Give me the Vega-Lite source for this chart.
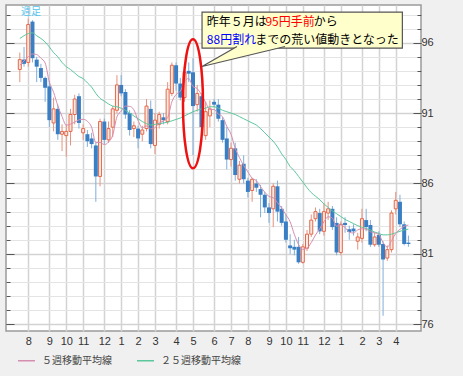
{
"$schema":"https://vega.github.io/schema/vega-lite/v6.json",
"width":415,"height":326,
"autosize":{"type":"none"},
"padding":{"left":6,"top":5,"right":42,"bottom":45},
"background":"#f0f0f0",
"view":{"fill":"#ffffff","stroke":"#9a9a9a","strokeWidth":1.5},
"config":{"axis":{"labelFont":"Liberation Sans","labelFontSize":11,"labelColor":"#333333","tickColor":"#555555","domain":false}},
"datasets":{"fx":[
{"date":"2009-07-20","open":94.1,"high":95.3,"low":93.2,"close":94.8,"ma5":94.4,"ma25":96.3},
{"date":"2009-07-27","open":94.8,"high":95.7,"low":94.3,"close":94.5,"ma5":94.7,"ma25":96.5},
{"date":"2009-08-03","open":94.6,"high":97.7,"low":94.3,"close":97.3,"ma5":95.0,"ma25":96.65},
{"date":"2009-08-10","open":97.5,"high":97.6,"low":94.6,"close":94.9,"ma5":95.2,"ma25":96.7},
{"date":"2009-08-17","open":94.8,"high":95.0,"low":93.2,"close":94.3,"ma5":95.16,"ma25":96.5},
{"date":"2009-08-24","open":94.2,"high":94.5,"low":93.2,"close":93.5,"ma5":94.9,"ma25":96.3},
{"date":"2009-08-31","open":93.5,"high":93.6,"low":91.8,"close":92.8,"ma5":94.56,"ma25":96.05},
{"date":"2009-09-07","open":92.9,"high":93.3,"low":90.0,"close":90.5,"ma5":93.2,"ma25":95.7},
{"date":"2009-09-14","open":90.3,"high":92.1,"low":89.7,"close":91.3,"ma5":92.48,"ma25":95.3},
{"date":"2009-09-21","open":91.3,"high":91.6,"low":89.1,"close":89.5,"ma5":91.52,"ma25":95.0},
{"date":"2009-09-28","open":89.5,"high":90.2,"low":88.3,"close":89.7,"ma5":90.76,"ma25":94.6},
{"date":"2009-10-05","open":89.4,"high":90.2,"low":87.9,"close":89.7,"ma5":90.14,"ma25":94.3},
{"date":"2009-10-12","open":89.7,"high":91.3,"low":88.7,"close":90.9,"ma5":90.22,"ma25":94.1},
{"date":"2009-10-19","open":90.9,"high":92.3,"low":90.2,"close":92.0,"ma5":90.36,"ma25":93.85},
{"date":"2009-10-26","open":92.2,"high":92.4,"low":89.9,"close":90.3,"ma5":90.52,"ma25":93.6},
{"date":"2009-11-02","open":89.6,"high":90.2,"low":89.1,"close":89.9,"ma5":90.56,"ma25":93.45},
{"date":"2009-11-09","open":89.5,"high":89.8,"low":88.6,"close":89.0,"ma5":90.42,"ma25":93.15},
{"date":"2009-11-16","open":89.2,"high":89.6,"low":88.5,"close":88.8,"ma5":90.0,"ma25":92.85},
{"date":"2009-11-23","open":88.7,"high":88.9,"low":84.7,"close":86.5,"ma5":88.9,"ma25":92.4},
{"date":"2009-11-30","open":86.5,"high":90.6,"low":85.8,"close":90.4,"ma5":88.92,"ma25":92.05},
{"date":"2009-12-07","open":90.4,"high":90.6,"low":88.8,"close":89.1,"ma5":88.76,"ma25":91.85},
{"date":"2009-12-14","open":89.1,"high":90.4,"low":88.9,"close":89.9,"ma5":88.94,"ma25":91.65},
{"date":"2009-12-21","open":90.0,"high":91.5,"low":89.3,"close":91.3,"ma5":89.44,"ma25":91.5},
{"date":"2009-12-28","open":91.2,"high":93.7,"low":91.0,"close":93.0,"ma5":90.74,"ma25":91.45},
{"date":"2010-01-04","open":93.0,"high":93.7,"low":92.2,"close":92.4,"ma5":91.14,"ma25":91.35},
{"date":"2010-01-11","open":92.5,"high":92.7,"low":90.6,"close":90.9,"ma5":91.5,"ma25":91.2},
{"date":"2010-01-18","open":91.0,"high":91.2,"low":89.4,"close":89.8,"ma5":91.48,"ma25":91.0},
{"date":"2010-01-25","open":89.9,"high":90.4,"low":89.3,"close":90.1,"ma5":91.24,"ma25":90.8},
{"date":"2010-02-01","open":89.9,"high":90.1,"low":88.5,"close":89.2,"ma5":90.48,"ma25":90.6},
{"date":"2010-02-08","open":89.5,"high":90.1,"low":89.0,"close":89.8,"ma5":89.96,"ma25":90.4},
{"date":"2010-02-15","open":89.9,"high":92.0,"low":89.7,"close":91.5,"ma5":90.08,"ma25":90.25},
{"date":"2010-02-22","open":91.3,"high":91.9,"low":88.5,"close":88.8,"ma5":89.88,"ma25":90.15},
{"date":"2010-03-01","open":88.7,"high":91.0,"low":88.1,"close":90.5,"ma5":89.96,"ma25":90.2},
{"date":"2010-03-08","open":90.2,"high":91.1,"low":89.9,"close":90.9,"ma5":90.3,"ma25":90.25},
{"date":"2010-03-15","open":90.7,"high":91.0,"low":90.2,"close":90.5,"ma5":90.44,"ma25":90.3},
{"date":"2010-03-22","open":90.4,"high":93.2,"low":90.2,"close":92.7,"ma5":90.68,"ma25":90.35},
{"date":"2010-03-29","open":92.4,"high":94.6,"low":92.2,"close":94.4,"ma5":91.8,"ma25":90.45},
{"date":"2010-04-05","open":94.4,"high":94.6,"low":92.6,"close":93.1,"ma5":92.32,"ma25":90.55},
{"date":"2010-04-12","open":93.1,"high":93.5,"low":91.9,"close":92.1,"ma5":92.56,"ma25":90.65},
{"date":"2010-04-19","open":92.1,"high":94.1,"low":91.8,"close":93.9,"ma5":93.24,"ma25":90.8},
{"date":"2010-04-26","open":94.0,"high":94.6,"low":93.2,"close":93.8,"ma5":93.46,"ma25":90.95},
{"date":"2010-05-03","open":93.9,"high":94.9,"low":88.0,"close":91.5,"ma5":92.88,"ma25":91.1},
{"date":"2010-05-10","open":91.6,"high":93.0,"low":91.1,"close":92.4,"ma5":92.74,"ma25":91.2},
{"date":"2010-05-17","open":92.2,"high":92.4,"low":89.8,"close":90.0,"ma5":92.32,"ma25":91.3},
{"date":"2010-05-24","open":89.4,"high":91.8,"low":89.1,"close":91.1,"ma5":91.76,"ma25":91.35},
{"date":"2010-05-31","open":90.8,"high":91.9,"low":90.0,"close":91.3,"ma5":91.26,"ma25":91.45},
{"date":"2010-06-07","open":91.8,"high":92.0,"low":91.4,"close":91.6,"ma5":91.26,"ma25":91.45},
{"date":"2010-06-14","open":91.6,"high":92.0,"low":90.4,"close":90.6,"ma5":90.92,"ma25":91.35},
{"date":"2010-06-21","open":90.5,"high":90.7,"low":88.9,"close":89.1,"ma5":90.74,"ma25":91.2},
{"date":"2010-06-28","open":89.2,"high":90.0,"low":87.0,"close":87.7,"ma5":90.06,"ma25":91.1},
{"date":"2010-07-05","open":87.7,"high":88.9,"low":87.2,"close":88.5,"ma5":89.5,"ma25":91.0},
{"date":"2010-07-12","open":88.5,"high":88.9,"low":86.2,"close":86.6,"ma5":88.5,"ma25":90.9},
{"date":"2010-07-19","open":86.3,"high":87.6,"low":86.0,"close":87.3,"ma5":87.84,"ma25":90.75},
{"date":"2010-07-26","open":87.4,"high":88.0,"low":86.0,"close":86.3,"ma5":87.28,"ma25":90.6},
{"date":"2010-08-02","open":86.2,"high":86.4,"low":85.0,"close":85.4,"ma5":86.82,"ma25":90.45},
{"date":"2010-08-09","open":85.5,"high":86.4,"low":84.7,"close":86.3,"ma5":86.38,"ma25":90.3},
{"date":"2010-08-16","open":86.0,"high":86.3,"low":85.4,"close":85.7,"ma5":86.2,"ma25":90.15},
{"date":"2010-08-23","open":85.6,"high":85.9,"low":83.6,"close":85.2,"ma5":85.78,"ma25":89.9},
{"date":"2010-08-30","open":85.2,"high":85.4,"low":83.9,"close":84.3,"ma5":85.38,"ma25":89.6},
{"date":"2010-09-06","open":84.3,"high":84.6,"low":83.2,"close":83.9,"ma5":85.08,"ma25":89.3},
{"date":"2010-09-13","open":84.2,"high":86.0,"low":82.9,"close":85.8,"ma5":84.98,"ma25":89.0},
{"date":"2010-09-20","open":85.8,"high":86.2,"low":83.3,"close":84.0,"ma5":84.64,"ma25":88.6},
{"date":"2010-09-27","open":84.2,"high":84.4,"low":83.0,"close":83.2,"ma5":84.24,"ma25":88.1},
{"date":"2010-10-04","open":83.3,"high":83.8,"low":81.8,"close":82.0,"ma5":83.78,"ma25":87.7},
{"date":"2010-10-11","open":81.6,"high":82.4,"low":81.0,"close":81.4,"ma5":83.28,"ma25":87.2},
{"date":"2010-10-18","open":81.5,"high":82.0,"low":80.9,"close":81.3,"ma5":82.38,"ma25":86.9},
{"date":"2010-10-25","open":81.5,"high":82.2,"low":80.3,"close":80.4,"ma5":81.66,"ma25":86.5},
{"date":"2010-11-01","open":80.4,"high":81.7,"low":80.3,"close":81.5,"ma5":81.32,"ma25":86.1},
{"date":"2010-11-08","open":81.4,"high":82.7,"low":81.2,"close":82.4,"ma5":81.4,"ma25":85.7},
{"date":"2010-11-15","open":82.4,"high":83.8,"low":82.2,"close":83.4,"ma5":81.8,"ma25":85.35},
{"date":"2010-11-22","open":83.5,"high":84.3,"low":83.3,"close":84.0,"ma5":82.34,"ma25":85.1},
{"date":"2010-11-29","open":83.9,"high":84.2,"low":82.4,"close":82.6,"ma5":82.78,"ma25":84.85},
{"date":"2010-12-06","open":82.6,"high":84.6,"low":82.3,"close":84.0,"ma5":83.28,"ma25":84.55},
{"date":"2010-12-13","open":83.9,"high":84.7,"low":83.4,"close":84.2,"ma5":83.64,"ma25":84.3},
{"date":"2010-12-20","open":84.2,"high":84.4,"low":82.7,"close":82.9,"ma5":83.54,"ma25":84.05},
{"date":"2010-12-27","open":83.2,"high":83.6,"low":80.9,"close":81.1,"ma5":82.96,"ma25":83.85},
{"date":"2011-01-03","open":81.1,"high":83.3,"low":80.9,"close":83.1,"ma5":83.06,"ma25":83.65},
{"date":"2011-01-10","open":83.2,"high":83.6,"low":82.5,"close":83.05,"ma5":82.87,"ma25":83.45},
{"date":"2011-01-17","open":82.75,"high":83.0,"low":82.0,"close":82.55,"ma5":82.54,"ma25":83.3},
{"date":"2011-01-24","open":82.8,"high":83.1,"low":82.3,"close":82.6,"ma5":82.48,"ma25":83.15},
{"date":"2011-01-31","open":81.9,"high":82.5,"low":81.3,"close":82.2,"ma5":82.7,"ma25":83.0},
{"date":"2011-02-07","open":82.1,"high":84.2,"low":81.8,"close":83.5,"ma5":82.78,"ma25":82.9},
{"date":"2011-02-14","open":83.4,"high":84.2,"low":82.6,"close":82.9,"ma5":82.75,"ma25":82.8},
{"date":"2011-02-21","open":83.05,"high":83.4,"low":81.5,"close":81.65,"ma5":82.57,"ma25":82.7},
{"date":"2011-02-28","open":81.65,"high":82.5,"low":81.5,"close":82.2,"ma5":82.49,"ma25":82.55},
{"date":"2011-03-07","open":82.35,"high":82.6,"low":81.5,"close":81.65,"ma5":82.38,"ma25":82.45},
{"date":"2011-03-14","open":81.7,"high":81.9,"low":76.6,"close":80.6,"ma5":81.8,"ma25":82.35},
{"date":"2011-03-21","open":80.7,"high":81.6,"low":80.5,"close":81.3,"ma5":81.48,"ma25":82.35},
{"date":"2011-03-28","open":81.3,"high":84.1,"low":81.1,"close":83.9,"ma5":81.93,"ma25":82.4},
{"date":"2011-04-04","open":84.2,"high":85.4,"low":83.8,"close":84.8,"ma5":82.45,"ma25":82.5},
{"date":"2011-04-11","open":84.7,"high":85.2,"low":82.9,"close":83.1,"ma5":82.74,"ma25":82.6},
{"date":"2011-04-18","open":83.1,"high":83.3,"low":81.6,"close":81.7,"ma5":82.96,"ma25":82.7},
{"date":"2011-04-25","open":81.8,"high":82.3,"low":81.5,"close":81.7,"ma5":83.04,"ma25":82.75}
]},
"data":{"name":"fx"},
"resolve":{"axis":{"x":"independent","y":"independent"}},
"layer":[
{"transform":[{"filter":"datum.close < datum.open"}],
 "mark":{"type":"rule","color":"#7eaedb","strokeWidth":1},
 "encoding":{
  "x":{"field":"date","type":"temporal","title":null,
   "scale":{"type":"utc","domain":[{"year":2009,"month":7,"date":5,"hours":10,"utc":true},{"year":2011,"month":5,"date":7,"hours":14,"utc":true}]},
   "axis":{"orient":"bottom","values":[
    {"year":2009,"month":8,"date":3,"utc":true},{"year":2009,"month":9,"date":7,"utc":true},{"year":2009,"month":10,"date":5,"utc":true},{"year":2009,"month":11,"date":2,"utc":true},{"year":2009,"month":12,"date":7,"utc":true},
    {"year":2010,"month":1,"date":4,"utc":true},{"year":2010,"month":2,"date":1,"utc":true},{"year":2010,"month":3,"date":1,"utc":true},{"year":2010,"month":4,"date":5,"utc":true},{"year":2010,"month":5,"date":3,"utc":true},{"year":2010,"month":6,"date":7,"utc":true},{"year":2010,"month":7,"date":5,"utc":true},{"year":2010,"month":8,"date":2,"utc":true},{"year":2010,"month":9,"date":6,"utc":true},{"year":2010,"month":10,"date":4,"utc":true},{"year":2010,"month":11,"date":1,"utc":true},{"year":2010,"month":12,"date":6,"utc":true},
    {"year":2011,"month":1,"date":3,"utc":true},{"year":2011,"month":2,"date":7,"utc":true},{"year":2011,"month":3,"date":7,"utc":true},{"year":2011,"month":4,"date":4,"utc":true}],
    "format":"%-m","ticks":false,"grid":true,"gridColor":"#d3d3d3","gridWidth":1.5,"labelPadding":4,"labelOverlap":false,"labelFlush":false}},
  "y":{"field":"low","type":"quantitative","title":null,"scale":{"domain":[75.52,98.68],"nice":false,"zero":false},
   "axis":{"orient":"right","values":[76,77,78,79,80,81,82,83,84,85,86,87,88,89,90,91,92,93,94,95,96,97,98],"labels":false,"tickSize":-4,"grid":true,"gridColor":"#e4e4e4","gridWidth":1}},
  "y2":{"field":"high"}}},
{"transform":[{"filter":"datum.close >= datum.open"}],
 "mark":{"type":"rule","color":"#e8927c","strokeWidth":1},
 "encoding":{
  "x":{"field":"date","type":"temporal","axis":null},
  "y":{"field":"low","type":"quantitative","title":null,
   "axis":{"orient":"right","values":[76,81,86,91,96],"tickSize":-8,"labelPadding":8,"grid":true,"gridColor":"#d2d2d2","gridWidth":1.5}},
  "y2":{"field":"high"}}},
{"transform":[{"filter":"datum.close < datum.open"}],
 "mark":{"type":"bar","size":4,"color":"#3a7fc4"},
 "encoding":{
  "x":{"field":"date","type":"temporal","axis":null},
  "y":{"field":"open","type":"quantitative","title":null,
   "axis":{"orient":"left","values":[76,77,78,79,80,81,82,83,84,85,86,87,88,89,90,91,92,93,94,95,96,97,98],"labels":false,"tickSize":-4,"grid":false}},
  "y2":{"field":"close"}}},
{"transform":[{"filter":"datum.close >= datum.open"}],
 "mark":{"type":"bar","size":3,"fill":"#fde8e1","stroke":"#e2694c","strokeWidth":1},
 "encoding":{
  "x":{"field":"date","type":"temporal","axis":null},
  "y":{"field":"open","type":"quantitative","title":null,
   "axis":{"orient":"left","values":[76,81,86,91,96],"labels":false,"tickSize":-8,"grid":false}},
  "y2":{"field":"close"}}},
{"mark":{"type":"line","strokeWidth":1,"interpolate":"monotone"},
 "encoding":{
  "x":{"field":"date","type":"temporal","axis":null},
  "y":{"field":"ma25","type":"quantitative","axis":null},
  "color":{"datum":"２５週移動平均線","type":"nominal",
   "scale":{"domain":["５週移動平均線","２５週移動平均線"],"range":["#d58db0","#5cc79c"]},
   "legend":{"orient":"bottom","direction":"horizontal","title":null,"symbolType":"stroke","symbolSize":290,"symbolStrokeWidth":1.5,"symbolOffset":11,"labelFont":"Noto Sans CJK JP","labelFontSize":10,"labelColor":"#444444","columnPadding":13,"offset":5,"labelOffset":6}}}},
{"mark":{"type":"line","strokeWidth":1,"interpolate":"monotone"},
 "encoding":{
  "x":{"field":"date","type":"temporal","axis":null},
  "y":{"field":"ma5","type":"quantitative","axis":null},
  "color":{"datum":"５週移動平均線","type":"nominal"}}},
{"data":{"values":[{}]},
 "mark":{"type":"point","shape":"M0,-1C0.0856,-1,0.155,-0.5523,0.155,0C0.155,0.5523,0.0856,1,0,1C-0.0856,1,-0.155,0.5523,-0.155,0C-0.155,-0.5523,-0.0856,-1,0,-1Z","size":16641,"filled":false,"color":"#ee1111","strokeWidth":2.5,"opacity":1},
 "encoding":{
  "x":{"datum":{"year":2010,"month":5,"date":3,"utc":true},"type":"temporal","axis":null},
  "y":{"datum":91.66,"type":"quantitative","axis":null}}},
{"data":{"values":[{}]},
 "mark":{"type":"rect","fill":"#ffffcc","stroke":"#555555","strokeWidth":1.2},
 "encoding":{
  "x":{"datum":{"year":2010,"month":5,"date":18,"utc":true},"type":"temporal","axis":null},
  "x2":{"datum":{"year":2011,"month":4,"date":15,"utc":true}},
  "y":{"datum":98.18,"type":"quantitative","axis":null},
  "y2":{"datum":95.62}}},
{"data":{"values":[{}]},
 "mark":{"type":"point","shape":"M0.35,-0.2L0,0L0.83,-0.2","size":40000,"filled":true,"fill":"#ffffcc","stroke":"#555555","strokeWidth":1.2,"opacity":1},
 "encoding":{
  "x":{"datum":{"year":2010,"month":5,"date":18,"utc":true},"type":"temporal","axis":null},
  "y":{"datum":94.31,"type":"quantitative","axis":null}}},
{"data":{"values":[{}]},
 "mark":{"type":"text","text":"昨年５月は","align":"left","baseline":"middle","font":"Noto Sans CJK JP","fontSize":12,"color":"#000000"},
 "encoding":{
  "x":{"datum":{"year":2010,"month":5,"date":26,"utc":true},"type":"temporal","axis":null},
  "y":{"datum":97.47,"type":"quantitative","axis":null}}},
{"data":{"values":[{}]},
 "mark":{"type":"text","text":"95円手前","align":"left","baseline":"middle","font":"Noto Sans CJK JP","fontSize":12,"color":"#ff0000"},
 "encoding":{
  "x":{"datum":{"year":2010,"month":8,"date":31,"utc":true},"type":"temporal","axis":null},
  "y":{"datum":97.47,"type":"quantitative","axis":null}}},
{"data":{"values":[{}]},
 "mark":{"type":"text","text":"から","align":"left","baseline":"middle","font":"Noto Sans CJK JP","fontSize":12,"color":"#000000"},
 "encoding":{
  "x":{"datum":{"year":2010,"month":11,"date":19,"utc":true},"type":"temporal","axis":null},
  "y":{"datum":97.47,"type":"quantitative","axis":null}}},
{"data":{"values":[{}]},
 "mark":{"type":"text","text":"88円割れ","align":"left","baseline":"middle","font":"Noto Sans CJK JP","fontSize":12,"color":"#0000ff"},
 "encoding":{
  "x":{"datum":{"year":2010,"month":5,"date":26,"utc":true},"type":"temporal","axis":null},
  "y":{"datum":96.19,"type":"quantitative","axis":null}}},
{"data":{"values":[{}]},
 "mark":{"type":"text","text":"までの荒い値動きとなった","align":"left","baseline":"middle","font":"Noto Sans CJK JP","fontSize":12,"color":"#000000"},
 "encoding":{
  "x":{"datum":{"year":2010,"month":8,"date":14,"utc":true},"type":"temporal","axis":null},
  "y":{"datum":96.19,"type":"quantitative","axis":null}}},
{"data":{"values":[{}]},
 "mark":{"type":"text","text":"週足","align":"left","baseline":"middle","font":"Noto Sans CJK JP","fontSize":10,"color":"#55c3ee"},
 "encoding":{
  "x":{"datum":{"year":2009,"month":7,"date":22,"utc":true},"type":"temporal","axis":null},
  "y":{"datum":98.19,"type":"quantitative","axis":null}}}
]
}
